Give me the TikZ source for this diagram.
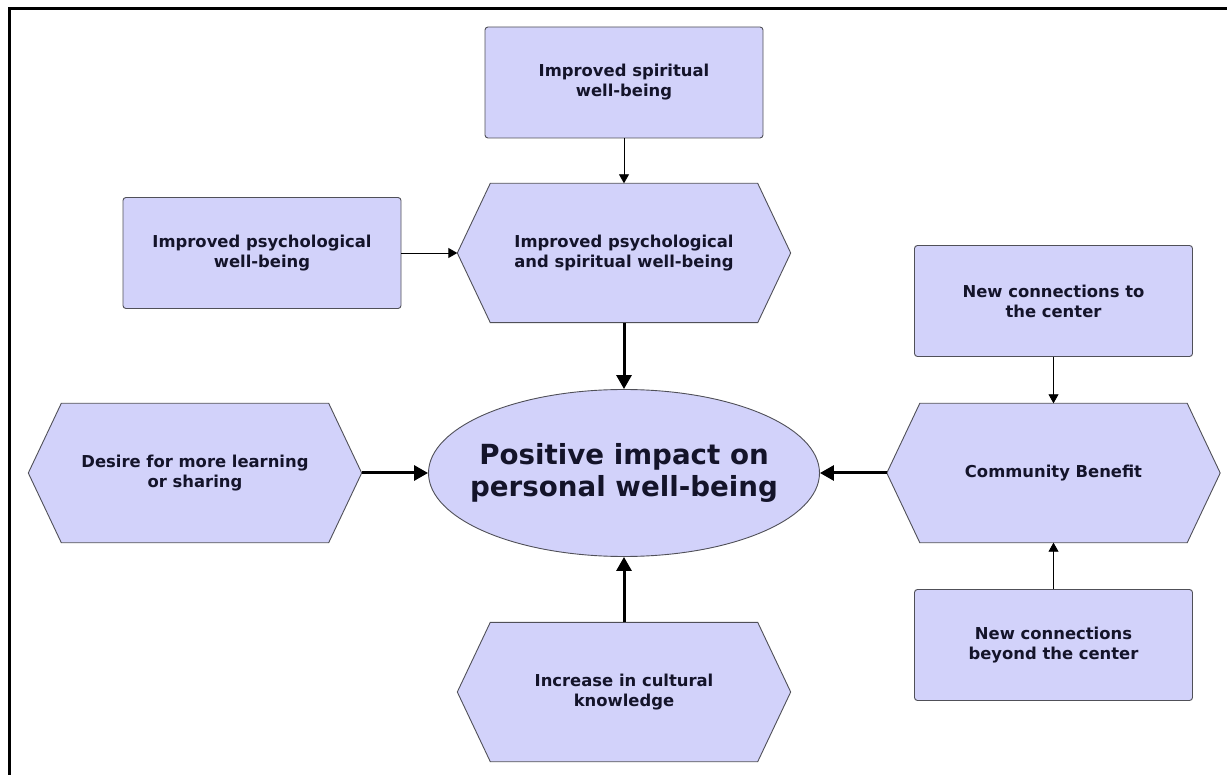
\documentclass[tikz,border=0pt]{standalone}
\usepackage{fontspec}
\setmainfont{DejaVu Sans}
\usetikzlibrary{arrows.meta,backgrounds,shapes.geometric}
\definecolor{boxfill}{HTML}{D2D2FA}
\definecolor{boxline}{HTML}{505058}
\definecolor{txt}{HTML}{14142A}
\tikzset{
  x=1pt,y=-1pt,
  lbl/.style={text=txt,font=\fontsize{16.4}{20}\selectfont\bfseries,align=center,inner sep=0pt},
  rbox/.style={lbl,draw=boxline,fill=boxfill,line width=0.9pt,rounded corners=3pt,minimum width=278pt,minimum height=111pt},
  hexnode/.style={lbl,minimum width=333pt,minimum height=139pt},
  hexline/.style={draw=boxline,fill=boxfill,line width=0.9pt},
  thin arrow/.style={line width=0.9pt,-{Triangle[length=9pt,width=10pt]}},
  thick arrow/.style={line width=3pt,-{Triangle[length=14pt,width=15pt]}},
}
\newcommand{\hexagonpath}[1]{%
  \path[hexline] ([xshift=33pt]#1.north west) -- ([xshift=-33pt]#1.north east) -- (#1.east)
    -- ([xshift=-33pt]#1.south east) -- ([xshift=33pt]#1.south west) -- (#1.west) -- cycle;}
\begin{document}
\begin{tikzpicture}
\useasboundingbox (0,0) rectangle (1227,775);

\node[rbox] (spir) at (624,82.5) {Improved spiritual\\well-being};
\node[rbox] (psy) at (262,253) {Improved psychological\\well-being};
\node[hexnode] (both) at (624,253) {Improved psychological\\and spiritual well-being};
\node[draw=boxline,fill=boxfill,line width=0.9pt,ellipse,minimum width=391pt,minimum height=167pt,inner sep=0pt] (pos) at (624,473) {};
\node[text=txt,align=center,inner sep=0pt,font=\fontsize{27.7}{32}\selectfont\bfseries] (postext) at (pos.center) {Positive impact on\\personal well-being};
\node[hexnode] (desire) at (195,473) {Desire for more learning\\or sharing};
\node[hexnode] (comm) at (1053.5,473) {Community Benefit};
\node[hexnode] (cult) at (624,692) {Increase in cultural\\knowledge};
\node[rbox] (newc) at (1053.5,301) {New connections to\\the center};
\node[rbox] (beyond) at (1053.5,645) {New connections\\beyond the center};

\begin{scope}[on background layer]
\fill[white] (0,0) rectangle (1227,775);
\hexagonpath{both}
\hexagonpath{desire}
\hexagonpath{comm}
\hexagonpath{cult}
\end{scope}

\draw[line width=3pt] (9,775) -- (9,9) -- (1227,9);

\draw[thin arrow] (spir.south) -- (both.north);
\draw[thin arrow] (psy.east) -- (both.west);
\draw[thick arrow] (both.south) -- (pos.north);
\draw[thick arrow] (desire.east) -- (pos.west);
\draw[thick arrow] (comm.west) -- (pos.east);
\draw[thick arrow] (cult.north) -- (pos.south);
\draw[thin arrow] (newc.south) -- (comm.north);
\draw[thin arrow] (beyond.north) -- (comm.south);
\end{tikzpicture}
\end{document}
